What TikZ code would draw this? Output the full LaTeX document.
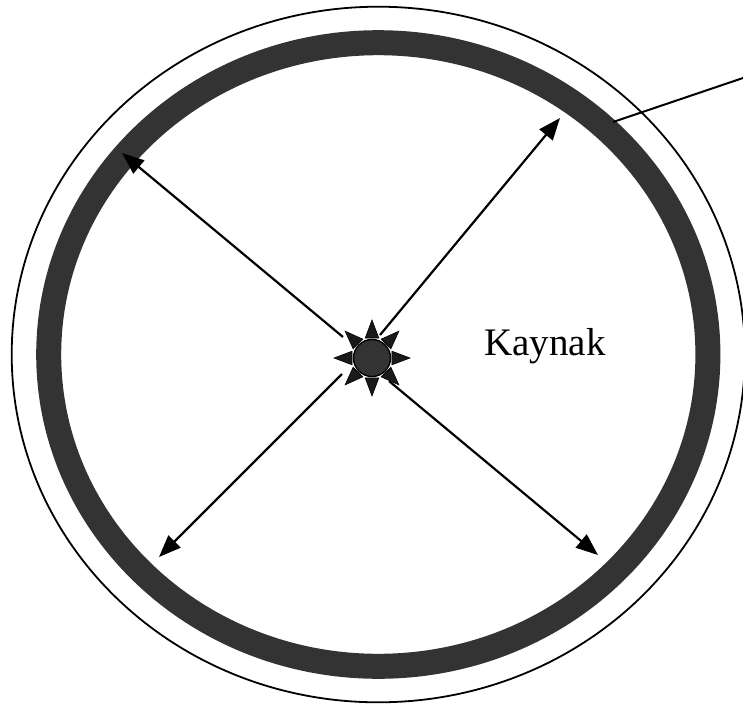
\documentclass[tikz,border=0pt]{standalone}
\usepackage{fontspec}
\setmainfont{Liberation Serif}
\usepackage{tikz}
\usetikzlibrary{arrows.meta}
\definecolor{ringgray}{HTML}{333333}
\definecolor{raygray}{HTML}{1A1A1A}

\begin{document}
\begin{tikzpicture}[
  x=0.5pt, y=-0.5pt,
  rim/.style={draw, line width=0.9pt},
  wall/.style={draw=ringgray, line width=12.5pt},
  sun/.style={circle, draw, fill=ringgray, line width=0.7pt, minimum size=18.5pt, inner sep=0pt},
  sunray/.style={fill=raygray, draw=black, line width=0.3pt},
  line/.style={draw, line width=1.1pt, -{Triangle[length=11pt,width=8.5pt]}},
  label/.style={font=\fontsize{19.5}{22}\selectfont, anchor=base}
]
\useasboundingbox (0,0) rectangle (743,707);

\draw [rim] (378.3,354.5) ellipse [x radius=366.6, y radius=347.8];
\draw [wall] (378.3,354.5) ellipse [x radius=329.6, y radius=311.8];

\node [sun] (src) at (372,358) {};
\foreach \a in {0,45,...,315}
  \filldraw [sunray] ([shift={(\a+19:21)}]src.center) -- ([shift={(\a:38)}]src.center)
    -- ([shift={(\a-19:21)}]src.center) -- cycle;

\node [label] (kaynak) at (545,355) {Kaynak};

\coordinate (ul0) at ([shift={(-29,-21)}]src.center);
\coordinate (ur0) at ([shift={(8,-23)}]src.center);
\coordinate (ll0) at ([shift={(-30,16)}]src.center);
\coordinate (lr0) at ([shift={(17,23)}]src.center);
\coordinate (ul) at (122,153);
\coordinate (ur) at (560,118);
\coordinate (ll) at (159,557);
\coordinate (lr) at (598,555);
\coordinate (lead) at (613,122);
\coordinate (leadend) at (743,78);

\path [line] (ul0) -- (ul);
\path [line] (ur0) -- (ur);
\path [line] (ll0) -- (ll);
\path [line] (lr0) -- (lr);
\draw [line width=1pt] (lead) -- (leadend);

\end{tikzpicture}
\end{document}
